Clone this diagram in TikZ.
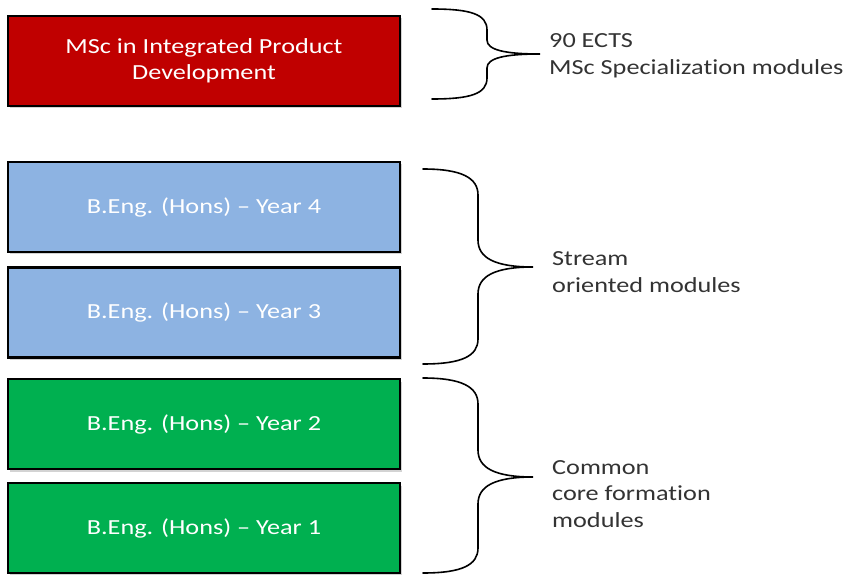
\documentclass[tikz,border=0pt]{standalone}
\usepackage{fontspec}
\setmainfont[FakeStretch=1.22, Ligatures={NoCommon}]{Carlito}
\usetikzlibrary{shadows}
\definecolor{mscred}{RGB}{192,0,0}
\definecolor{yrblue}{RGB}{141,179,226}
\definecolor{yrgreen}{RGB}{0,176,80}
\tikzset{
  yearbox/.style={draw=black, line width=2.4pt, minimum width=392pt, minimum height=90pt,
    inner sep=0pt, text=white, align=center, font=\fontsize{21.5}{26.5}\selectfont,
    drop shadow={shadow xshift=2pt, shadow yshift=-2.5pt, opacity=0.35}},
  lbl/.style={anchor=west, align=left, inner sep=0pt, text=black!80,
    font=\fontsize{21.5}{26.5}\selectfont},
  bracepath/.style={draw=black, line width=1.6pt, line cap=round}
}
\begin{document}
\begin{tikzpicture}[x=1pt, y=-1pt]
\useasboundingbox (0,0) rectangle (855,575);
\node[yearbox, fill=mscred] (msc) at (204,61) {MSc in Integrated Product\\Development};
\node[yearbox, fill=yrblue] (y4) at (204,207) {B.Eng. (Hons) \textendash{} Year 4};
\node[yearbox, fill=yrblue] (y3) at (204,312.5) {B.Eng. (Hons) \textendash{} Year 3};
\node[yearbox, fill=yrgreen] (y2) at (204,424) {B.Eng. (Hons) \textendash{} Year 2};
\node[yearbox, fill=yrgreen] (y1) at (204,528) {B.Eng. (Hons) \textendash{} Year 1};
% brace 1
\draw[bracepath] (432,9) .. controls (470,9) and (487,14) .. (487,30) -- (487,40)
  .. controls (487,50) and (505,54) .. (540,54)
  .. controls (505,54) and (487,58) .. (487,68) -- (487,78)
  .. controls (487,94) and (470,99) .. (432,99);
% brace 2
\draw[bracepath] (423,169) .. controls (462,169) and (478,178) .. (478,195) -- (478,240)
  .. controls (478,258) and (495,267) .. (533,267)
  .. controls (495,267) and (478,276) .. (478,294) -- (478,339)
  .. controls (478,356) and (462,364) .. (423,364);
% brace 3
\draw[bracepath] (423,378) .. controls (462,378) and (478,387) .. (478,404) -- (478,450)
  .. controls (478,468) and (495,477) .. (533,477)
  .. controls (495,477) and (478,486) .. (478,504) -- (478,548)
  .. controls (478,565) and (462,573) .. (423,573);
\node[lbl] (t1) at (549,56) {90 ECTS\\MSc Specialization modules};
\node[lbl] (t2) at (552,272) {Stream\\oriented modules};
\node[lbl] (t3) at (552,494) {Common\\core formation\\modules};
\end{tikzpicture}
\end{document}
